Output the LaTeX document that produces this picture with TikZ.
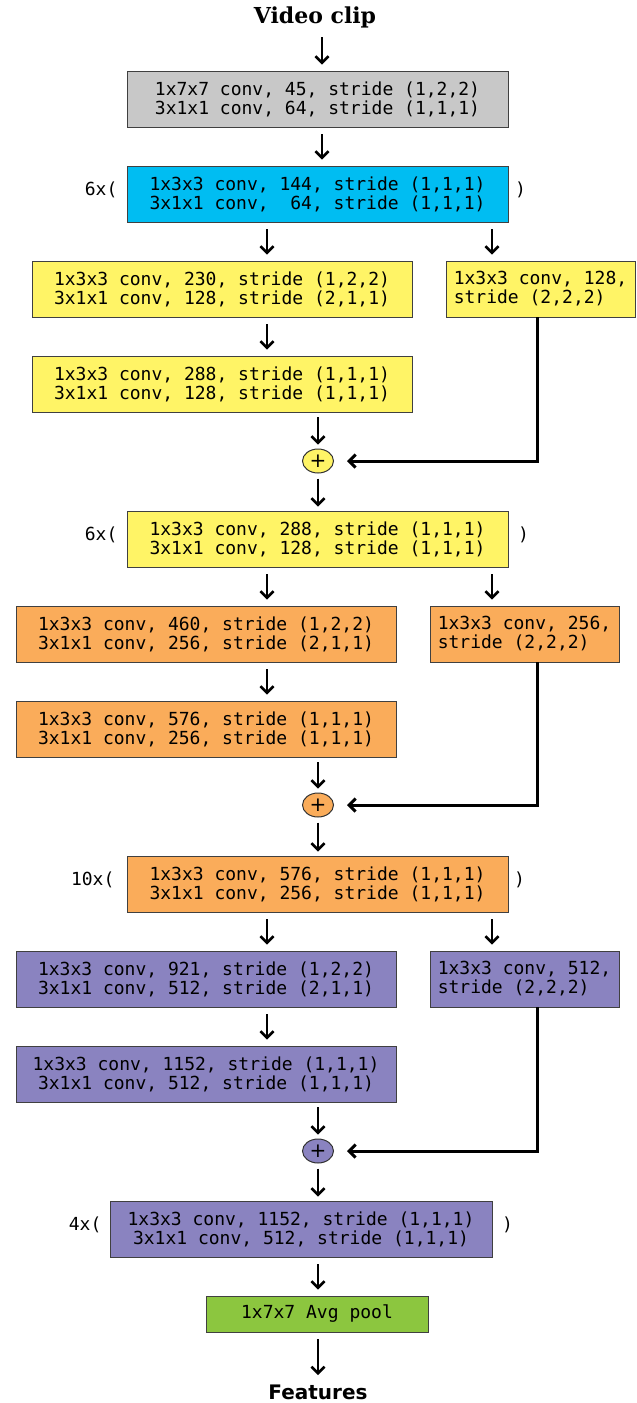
\documentclass[tikz,border=0pt]{standalone}
\usepackage{fontspec}
\usetikzlibrary{arrows.meta,shapes.geometric,calc}
\newfontfamily\monof{DejaVu Sans Mono}
\newfontfamily\titlef{DejaVu Serif}
\newfontfamily\featf{DejaVu Sans}
\definecolor{cgray}{HTML}{C8C8C8}
\definecolor{cblue}{HTML}{00BDF2}
\definecolor{cyellow}{HTML}{FFF466}
\definecolor{corange}{HTML}{FAAC5A}
\definecolor{cpurple}{HTML}{8A83C0}
\definecolor{cgreen}{HTML}{8CC63F}
\begin{document}
\begin{tikzpicture}[x=1pt,y=-1pt,
  box/.style={draw=black!75, line width=0.9pt, minimum height=56pt, inner sep=0pt,
    align=center, font=\monof\fontsize{18}{19}\selectfont},
  lbox/.style={box, minimum width=380pt},
  wbox/.style={box, minimum width=381pt},
  rbox/.style={box, align=left, minimum width=189pt},
  rep/.style={font=\monof\fontsize{18}{19}\selectfont, inner sep=0pt},
  arr/.style={-{Straight Barb[length=6.5pt,width=13pt]}, line width=2.6pt,
    shorten <=7pt, shorten >=6pt},
  parr/.style={arr, shorten >=4pt, shorten <=5pt},
  skip/.style={-{Straight Barb[length=6.5pt,width=13pt]}, line width=3pt, shorten >=13pt},
  plus/.style={ellipse, draw=black!80, line width=1pt, minimum width=31pt,
    minimum height=24pt, inner sep=0pt, font=\featf\fontsize{20}{20}\selectfont}]
\useasboundingbox (0,0) rectangle (637,1403);

\node[font=\titlef\bfseries\fontsize{22}{22}\selectfont] (clip) at (315,17) {Video clip};
\node[wbox, fill=cgray] (conv1) at (317.5,99)
  {1x7x7 conv, 45, stride (1,2,2)\\3x1x1 conv, 64, stride (1,1,1)};

% ---- stage 1 (blue / yellow)
\node[wbox, fill=cblue] (b1) at (317.5,194)
  {1x3x3 conv, 144, stride (1,1,1)\\3x1x1 conv, ~64, stride (1,1,1)};
\node[rep, anchor=east] (b1l) at ($(b1.west)+(-9,-4)$) {6x(};
\node[rep] (b1r) at ($(b1.east)+(12,-4)$) {)};
\node[lbox, fill=cyellow] (y1) at (222,289)
  {1x3x3 conv, 230, stride (1,2,2)\\3x1x1 conv, 128, stride (2,1,1)};
\node[rbox, fill=cyellow] (ry1) at (540.5,289) {1x3x3 conv, 128,\\stride (2,2,2)};
\node[lbox, fill=cyellow] (y2) at (222,384)
  {1x3x3 conv, 288, stride (1,1,1)\\3x1x1 conv, 128, stride (1,1,1)};
\node[plus, fill=cyellow] (p1) at (318,461) {+};

% ---- stage 2 (yellow / orange)
\node[wbox, fill=cyellow] (y3) at (317.5,539)
  {1x3x3 conv, 288, stride (1,1,1)\\3x1x1 conv, 128, stride (1,1,1)};
\node[rep, anchor=east] (y3l) at ($(y3.west)+(-9,-4)$) {6x(};
\node[rep] (y3r) at ($(y3.east)+(15,-4)$) {)};
\node[lbox, fill=corange] (o1) at (206,634)
  {1x3x3 conv, 460, stride (1,2,2)\\3x1x1 conv, 256, stride (2,1,1)};
\node[rbox, fill=corange] (ro1) at (524.5,634) {1x3x3 conv, 256,\\stride (2,2,2)};
\node[lbox, fill=corange] (o2) at (206,729)
  {1x3x3 conv, 576, stride (1,1,1)\\3x1x1 conv, 256, stride (1,1,1)};
\node[plus, fill=corange] (p2) at (318,805) {+};

% ---- stage 3 (orange / purple)
\node[wbox, fill=corange] (o3) at (317.5,884)
  {1x3x3 conv, 576, stride (1,1,1)\\3x1x1 conv, 256, stride (1,1,1)};
\node[rep, anchor=east] (o3l) at ($(o3.west)+(-12,-4)$) {10x(};
\node[rep] (o3r) at ($(o3.east)+(11,-4)$) {)};
\node[lbox, fill=cpurple] (u1) at (206,979)
  {1x3x3 conv, 921, stride (1,2,2)\\3x1x1 conv, 512, stride (2,1,1)};
\node[rbox, fill=cpurple] (ru1) at (524.5,979) {1x3x3 conv, 512,\\stride (2,2,2)};
\node[lbox, fill=cpurple] (u2) at (206,1074)
  {1x3x3 conv, 1152, stride (1,1,1)\\3x1x1 conv, 512, stride (1,1,1)};
\node[plus, fill=cpurple] (p3) at (318,1151) {+};

% ---- stage 4
\node[box, minimum width=382pt, fill=cpurple] (u3) at (301,1229)
  {1x3x3 conv, 1152, stride (1,1,1)\\3x1x1 conv, 512, stride (1,1,1)};
\node[rep, anchor=east] (u3l) at ($(u3.west)+(-8,-4)$) {4x(};
\node[rep] (u3r) at ($(u3.east)+(15,-4)$) {)};
\node[box, minimum width=222pt, minimum height=36pt, fill=cgreen] (pool) at (317,1314)
  {1x7x7 Avg pool};
\node[font=\featf\bfseries\fontsize{20}{20}\selectfont] (feat) at (318,1392) {Features};

% ---- connectors
\draw[arr, shorten <=6pt] (clip.south -| 322,0) -- (conv1.north -| 322,0);
\draw[arr] (conv1.south -| 322,0) -- (b1.north -| 322,0);
\draw[arr] (b1.south -| 267,0) -- (y1.north -| 267,0);
\draw[arr] (b1.south -| 492,0) -- (ry1.north -| 492,0);
\draw[arr] (y1.south -| 267,0) -- (y2.north -| 267,0);
\draw[parr] (y2.south -| 318,0) -- (p1.north);
\draw[skip] (ry1.south -| 537,0) |- (p1.east);
\draw[parr] (p1.south) -- (y3.north -| 318,0);

\draw[arr] (y3.south -| 267,0) -- (o1.north -| 267,0);
\draw[arr] (y3.south -| 492,0) -- (ro1.north -| 492,0);
\draw[arr] (o1.south -| 267,0) -- (o2.north -| 267,0);
\draw[parr] (o2.south -| 318,0) -- (p2.north);
\draw[skip] (ro1.south -| 537,0) |- (p2.east);
\draw[parr] (p2.south) -- (o3.north -| 318,0);

\draw[arr] (o3.south -| 267,0) -- (u1.north -| 267,0);
\draw[arr] (o3.south -| 492,0) -- (ru1.north -| 492,0);
\draw[arr] (u1.south -| 267,0) -- (u2.north -| 267,0);
\draw[parr] (u2.south -| 318,0) -- (p3.north);
\draw[skip] (ru1.south -| 537,0) |- (p3.east);
\draw[parr] (p3.south) -- (u3.north -| 318,0);

\draw[arr] (u3.south -| 318,0) -- (pool.north -| 318,0);
\draw[arr] (pool.south -| 318,0) -- (feat.north -| 318,0);
\end{tikzpicture}
\end{document}
